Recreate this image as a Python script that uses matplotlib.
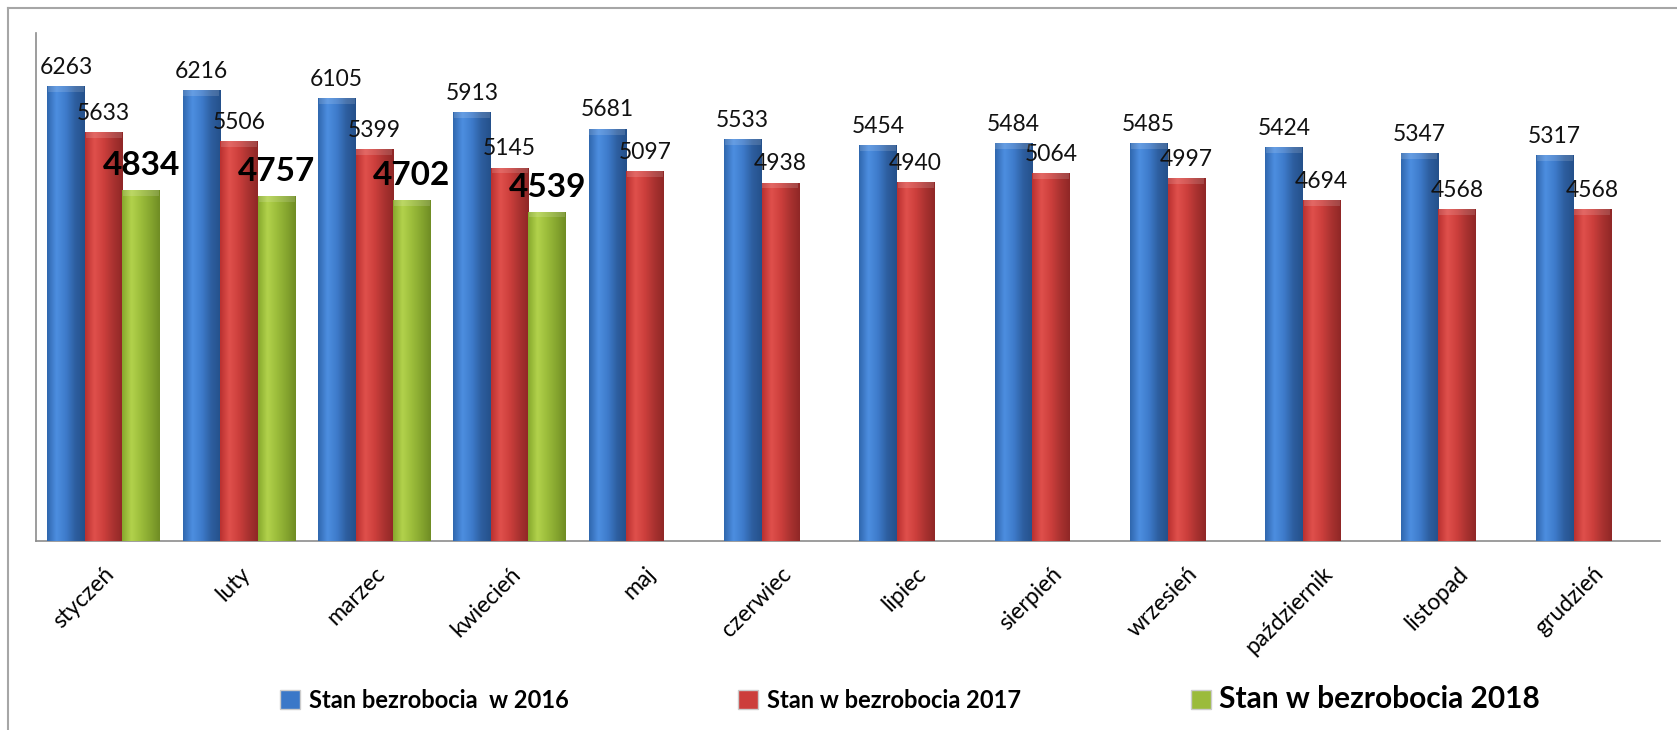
import numpy as np
import matplotlib
matplotlib.use("Agg")
import matplotlib.pyplot as plt
from matplotlib.colors import LinearSegmentedColormap
from matplotlib.patches import Patch
from matplotlib.lines import Line2D

months = ["styczeń", "luty", "marzec", "kwiecień", "maj", "czerwiec",
          "lipiec", "sierpień", "wrzesień", "październik", "listopad", "grudzień"]
v2016 = [6263, 6216, 6105, 5913, 5681, 5533, 5454, 5484, 5485, 5424, 5347, 5317]
v2017 = [5633, 5506, 5399, 5145, 5097, 4938, 4940, 5064, 4997, 4694, 4568, 4568]
v2018 = [4834, 4757, 4702, 4539]
series_names = ["Stan bezrobocia  w 2016", "Stan w bezrobocia 2017", "Stan w bezrobocia 2018"]

plt.rcParams["font.family"] = ["Lato", "DejaVu Sans"]

# cylinder-like shading for each colour
shades = {
    "blue": ["#2f66ad", "#4d8ee0", "#3e7bcb", "#2d5e9f", "#24508a"],
    "red": ["#b9302f", "#e0504c", "#cc3f3c", "#a93230", "#8f2726"],
    "green": ["#86a82c", "#b2d24c", "#9cbd3b", "#86a62f", "#6f8c24"],
}
flat = {"blue": "#3b78c8", "red": "#cc3e3b", "green": "#9bbb3b"}

fig = plt.figure(figsize=(16.77, 7.30), dpi=100)
ax = fig.add_axes([36/1677, (730-541)/730, (1660-36)/1677, (541-33)/730])

x = np.arange(len(months))
bw = 0.278
grad = np.linspace(0, 1, 256).reshape(1, -1)


def shaded_bars(xs, vals, key):
    bars = ax.bar(xs, vals, bw, color=flat[key], edgecolor="none", zorder=2)
    cmap = LinearSegmentedColormap.from_list(key, shades[key])
    for b in bars:
        x0, y0 = b.get_x(), b.get_y()
        w, h = b.get_width(), b.get_height()
        im = ax.imshow(grad, cmap=cmap, aspect="auto", extent=[x0, x0 + w, y0, y0 + h],
                       zorder=3, interpolation="bicubic")
        im.set_clip_path(b)
        # lighter top cap
        ax.bar(x0 + w/2, 80, w * 0.96, bottom=y0 + h - 80, color="white",
               alpha=0.14, edgecolor="none", zorder=4)
    return bars


shaded_bars(x - bw, v2016, "blue")
shaded_bars(x, v2017, "red")
shaded_bars(x[:len(v2018)] + bw, v2018, "green")

for xi, v in zip(x - bw, v2016):
    ax.annotate(str(v), (xi, v), xytext=(0, 6), textcoords="offset points",
                ha="center", va="bottom", fontsize=16.5, color="#111111")
for xi, v in zip(x, v2017):
    ax.annotate(str(v), (xi, v), xytext=(0, 6), textcoords="offset points",
                ha="center", va="bottom", fontsize=16.5, color="#111111")
for xi, v in zip(x[:len(v2018)] + bw, v2018):
    ax.annotate(str(v), (xi, v), xytext=(0, 7), textcoords="offset points",
                ha="center", va="bottom", fontsize=24, fontweight="bold", color="black")

ax.set_xlim(-0.5, len(months) - 0.5)
ax.set_ylim(0, 7000)
ax.set_yticks([])
ax.set_xticks(x)
ax.set_xticklabels(months, rotation=45, ha="right", rotation_mode="anchor", fontsize=16.5)
ax.tick_params(axis="x", length=0, pad=16)
for s in ["top", "right"]:
    ax.spines[s].set_visible(False)
for s in ["left", "bottom"]:
    ax.spines[s].set_color("#8c8c8c")
    ax.spines[s].set_linewidth(1.2)

# outer chart frame
fig.add_artist(Line2D([8/1677, 1], [1 - 8/730, 1 - 8/730], transform=fig.transFigure,
                      color="#a6a6a6", lw=1.5))
fig.add_artist(Line2D([8/1677, 8/1677], [0, 1 - 8/730], transform=fig.transFigure,
                      color="#a6a6a6", lw=1.5))

handles = [Patch(facecolor=flat[k], edgecolor="#cccccc") for k in ["blue", "red", "green"]]
leg = fig.legend(handles, series_names, loc="center", bbox_to_anchor=(910/1677, 31/730),
                 ncol=3, frameon=False, prop={"size": 17, "weight": "bold"},
                 columnspacing=7.2, handletextpad=0.35, handlelength=0.85, handleheight=0.85)
leg.get_texts()[2].set_fontsize(21.5)

fig.savefig("out.png", dpi=100)
